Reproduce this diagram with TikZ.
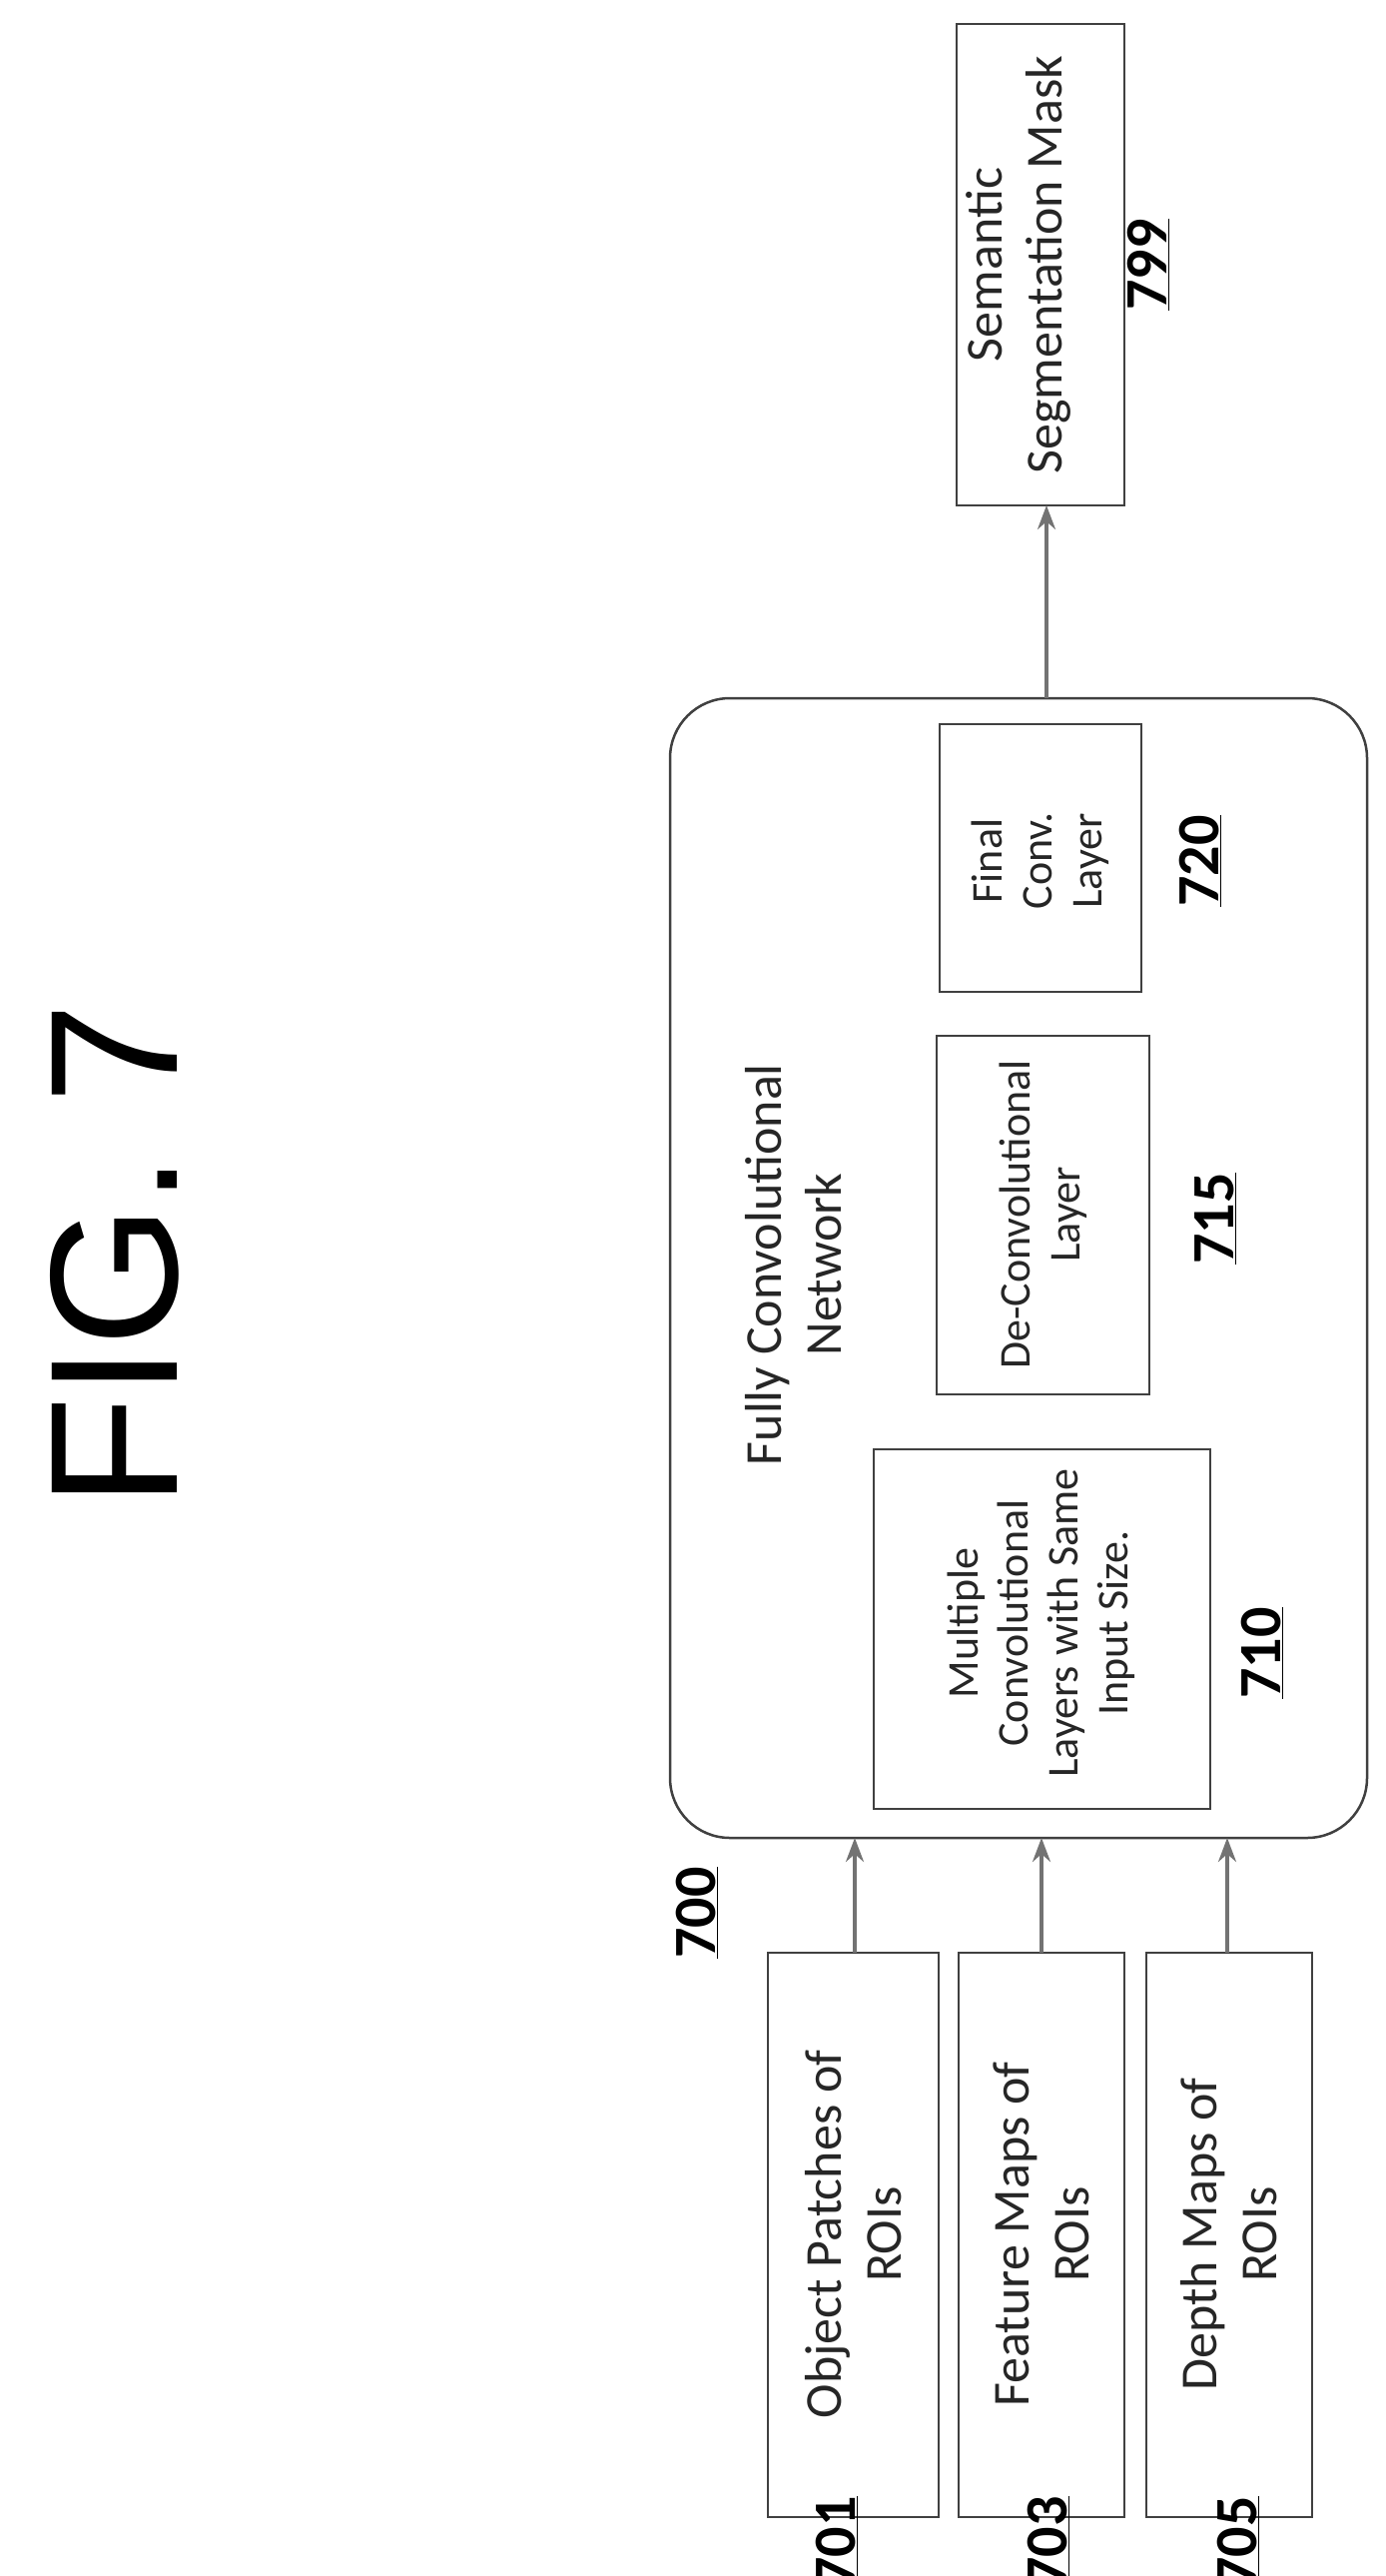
\documentclass[tikz,border=0pt]{standalone}
\usepackage{fontspec}
\setmainfont{Carlito}
\newfontfamily\figfont{Liberation Sans}
\usetikzlibrary{arrows.meta}
\begin{document}
\begin{tikzpicture}[x=1pt,y=-1pt,
  box/.style={draw=black!75,line width=2.5pt,inner sep=0pt},
  txt/.style={rotate=90,align=center,font=\fontsize{52}{60}\selectfont\color{black!85}},
  stxt/.style={rotate=90,align=center,font=\fontsize{44}{50}\selectfont\color{black!85}},
  lbl/.style={rotate=90,font=\fontsize{60}{60}\selectfont\bfseries},
  conn/.style={draw=black!55,line width=3.5pt,-{Stealth[length=24pt,width=18pt]}}]
\useasboundingbox (0,0) rectangle (1388,2579);
\node[rotate=90,font=\figfont\fontsize{182}{182}\selectfont] (fig) at (115,1257) {FIG. 7};
% big box
\draw[box,rounded corners=60pt] (671,699) rectangle (1369,1840);
\coordinate (bigtop) at (1048,699);
\coordinate (bigb1) at (856,1840);
\coordinate (bigb2) at (1043,1840);
\coordinate (bigb3) at (1229,1840);
\node[txt] (fcn) at (795,1266) {Fully Convolutional\\Network};
\node[lbl] (l700) at (698,1915) {\underline{700}};
% inner boxes
\draw[box] (875,1451) rectangle (1212,1811);
\node[stxt] (t710) at (1043,1625) {Multiple\\Convolutional\\Layers with Same\\Input Size.};
\node[lbl] (l710) at (1264,1655) {\underline{710}};
\draw[box] (938,1037) rectangle (1151,1396);
\node[stxt] (t715) at (1045,1216) {De-Convolutional\\Layer};
\node[lbl] (l715) at (1217,1220) {\underline{715}};
\draw[box] (941,725) rectangle (1143,993);
\node[stxt] (t720) at (1042,862) {Final\\Conv.\\Layer};
\node[lbl] (l720) at (1202,862) {\underline{720}};
% output
\draw[box] (958,24) rectangle (1126,506);
\node[txt] (t799) at (1020,265) {Semantic\\Segmentation Mask};
\node[lbl] (l799) at (1150,265) {\underline{799}};
\coordinate (outb) at (1048,506);
% inputs
\draw[box] (769,1955) rectangle (940,2520);
\node[txt] (t701) at (855,2237) {Object Patches of\\ROIs};
\draw[box] (960,1955) rectangle (1126,2520);
\node[txt] (t703) at (1043,2237) {Feature Maps of\\ROIs};
\draw[box] (1148,1955) rectangle (1314,2520);
\node[txt] (t705) at (1231,2237) {Depth Maps of\\ROIs};
\coordinate (i1) at (856,1955);
\coordinate (i2) at (1043,1955);
\coordinate (i3) at (1229,1955);
\node[lbl] (l701) at (838,2545) {\underline{701}};
\node[lbl] (l703) at (1050,2545) {\underline{703}};
\node[lbl] (l705) at (1240,2545) {\underline{705}};
% connectors
\draw[conn] (i1) -- (bigb1);
\draw[conn] (i2) -- (bigb2);
\draw[conn] (i3) -- (bigb3);
\draw[conn] (bigtop) -- (outb);
\end{tikzpicture}
\end{document}
